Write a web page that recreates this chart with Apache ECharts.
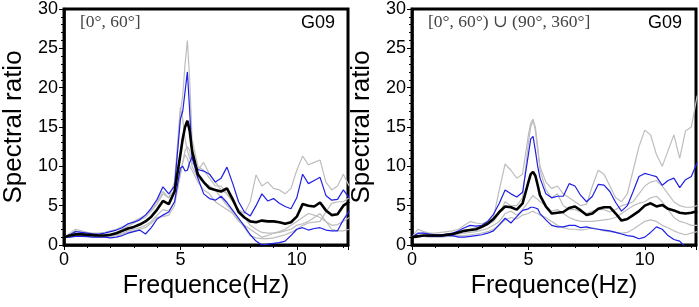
<!DOCTYPE html>
<html>
<head>
<meta charset="utf-8">
<script src="https://cdn.jsdelivr.net/npm/echarts@6/dist/echarts.min.js"></script>
<style>
  html, body { margin: 0; padding: 0; background: #fff; }
  #chart { width: 699px; height: 307px; }
</style>
</head>
<body>
<div id="chart"></div>
<script>
// frequency samples (Hz), shared by all curves
const freqHz = [
  0, 0.25, 0.5, 0.75, 1, 1.25, 1.5, 1.75, 2, 2.25, 2.5, 2.75, 3, 3.25, 3.5, 3.75, 4, 4.25, 4.5, 4.75,
  5, 5.1, 5.2, 5.3, 5.4, 5.5,
  5.75, 6, 6.25, 6.5, 6.75, 7, 7.25, 7.5, 7.75, 8, 8.25, 8.5, 8.75, 9, 9.25, 9.5, 9.75, 10, 10.25, 10.5, 10.75, 11, 11.25, 11.5, 11.75, 12, 12.25
];

// left panel [0°, 60°]
const leftMean = [
  1.0, 1.2, 1.35, 1.35, 1.3, 1.25, 1.2, 1.2, 1.3, 1.5, 1.8, 2.1, 2.3, 2.6, 3.0, 3.6, 4.5, 5.6, 5.2, 6.8,
  11.5, 13.5, 15.0, 15.8, 14.5, 12.0,
  9.0, 8.0, 7.2, 7.0, 6.8, 7.2, 5.8, 4.2, 3.5, 3.0, 2.9, 3.1, 3.0, 3.0, 2.9, 2.7, 2.9, 3.6, 5.2, 5.0, 4.9, 5.4, 4.4, 3.8, 3.9, 5.0, 5.5
];
const leftBlueHi = [
  1.0, 1.3, 1.7, 1.6, 1.5, 1.4, 1.4, 1.5, 1.7, 1.9, 2.2, 2.7, 2.9, 3.2, 3.8, 4.7, 5.8, 7.4, 6.5, 7.5,
  16.0, 17.0, 19.5, 22.0, 17.0, 11.0,
  9.6, 9.4, 9.0, 8.0, 8.5, 9.9, 7.8, 5.5, 4.2, 3.7, 5.0, 6.5, 5.6, 5.9, 5.3, 4.9, 4.6, 6.0, 9.0, 7.8, 8.2, 8.6, 6.3, 5.7, 5.8, 7.0, 6.0
];
const leftBlueLo = [
  1.0, 1.0, 1.1, 1.1, 1.1, 1.0, 1.0, 1.0, 0.9, 1.0, 1.2, 1.5, 1.7, 1.9, 1.4, 2.2, 3.3, 3.8, 4.2, 5.5,
  9.8, 10.0, 9.4, 9.5, 10.5, 11.2,
  8.5, 6.5, 5.9, 5.7, 6.2, 5.4, 4.4, 3.4, 2.4, 1.3, 0.5, 0.0, 0.1, 0.2, 0.3, 0.5, 1.2, 2.0, 2.2, 1.9, 2.1, 2.2, 1.9, 1.8, 1.8, 3.2, 4.3
];
const leftGray1 = [
  1.0, 1.5, 2.0, 1.8, 1.6, 1.5, 1.5, 1.6, 1.8, 2.0, 2.3, 2.6, 3.0, 3.4, 3.8, 4.5, 5.5, 6.8, 6.0, 7.0,
  17.0, 19.0, 23.0, 26.0, 21.0, 13.5,
  10.0, 9.5, 8.5, 7.5, 7.5, 6.5, 5.5, 4.5, 4.0, 5.5, 8.9, 7.5, 8.0, 7.2, 7.0, 6.5, 7.2, 9.5, 11.3, 10.2, 10.5, 10.8, 8.0, 7.0, 7.5, 9.0, 7.5
];
const leftGray2 = [
  1.0, 1.3, 1.8, 1.6, 1.5, 1.4, 1.3, 1.3, 1.4, 1.6, 2.0, 2.4, 2.8, 3.2, 3.5, 4.3, 5.2, 6.5, 6.0, 8.0,
  17.5, 16.0, 13.5, 12.0, 11.0, 10.5,
  9.5, 10.5, 9.0, 8.0, 7.0, 6.5, 5.5, 4.5, 3.5, 2.5, 2.0, 1.6, 1.5, 1.5, 1.7, 2.0, 2.5, 3.0, 3.5, 4.0, 3.8, 3.5, 3.0, 2.5, 2.6, 3.0, 3.5
];
const leftGray3 = [
  1.0, 1.1, 1.3, 1.2, 1.2, 1.1, 1.1, 1.1, 1.2, 1.3, 1.5, 1.8, 2.0, 2.2, 2.5, 3.0, 3.8, 4.5, 4.3, 5.5,
  9.0, 10.5, 12.0, 12.5, 12.0, 10.0,
  8.5, 8.0, 7.5, 7.0, 6.0, 5.0, 4.2, 3.2, 2.2, 1.2, 0.9, 0.8, 0.8, 0.9, 1.1, 1.3, 1.6, 2.0, 2.5, 2.8, 2.9, 3.0, 4.2, 5.3, 5.5, 5.5, 6.0
];
const leftGray4 = [
  1.0, 1.0, 1.2, 1.1, 1.0, 1.0, 1.0, 1.0, 1.1, 1.2, 1.4, 1.6, 1.8, 2.0, 2.2, 2.8, 3.5, 3.6, 3.8, 5.0,
  9.0, 10.5, 11.5, 11.0, 10.0, 9.5,
  8.0, 7.0, 6.5, 5.5, 5.0, 4.5, 4.0, 3.0, 2.5, 2.0, 1.5, 1.0, 1.2, 1.5, 1.6, 1.8, 2.0, 2.5, 2.7, 3.0, 3.5, 4.0, 3.0, 2.0, 1.8, 1.8, 2.0
];

// right panel [0°, 60°) ∪ (90°, 360°]
const rightMean = [
  1.0, 1.1, 1.2, 1.2, 1.2, 1.2, 1.3, 1.4, 1.6, 1.8, 1.9, 2.0, 2.3, 2.7, 3.3, 4.2, 4.9, 4.8, 4.5, 5.3,
  8.0, 9.0, 9.3, 8.8, 7.6, 6.3,
  4.9, 4.0, 4.1, 4.2, 4.7, 4.9, 4.4, 3.8, 4.0, 4.6, 4.8, 4.8, 4.0, 3.1, 3.3, 3.8, 4.3, 5.0, 5.3, 4.9, 5.1, 4.6, 4.4, 4.1, 4.0, 4.1, 4.3
];
const rightBlueHi = [
  1.0, 1.5, 1.5, 1.4, 1.3, 1.3, 1.4, 1.5, 1.8, 2.2, 2.5, 2.4, 2.5, 3.0, 3.9, 5.3, 7.0, 6.5, 6.1, 6.7,
  11.5, 13.5, 13.8, 12.0, 10.0, 8.5,
  6.5, 6.0, 6.2, 6.2, 7.8, 7.5, 6.3, 5.5, 6.2, 7.7, 7.6, 6.8, 5.4, 4.3, 5.0, 6.8, 8.7, 9.1, 8.9, 8.7, 7.6, 8.2, 8.5, 7.3, 8.3, 8.7, 10.5
];
const rightBlueLo = [
  1.0, 1.2, 1.2, 1.1, 1.1, 1.1, 1.2, 1.2, 1.0, 1.0, 1.1, 1.2, 1.3, 1.5, 1.8, 2.6, 3.4, 2.8, 3.6, 4.4,
  4.6, 4.8, 4.8, 4.7, 4.6, 4.0,
  3.2, 2.5, 2.3, 2.3, 2.5, 2.5, 2.2, 2.3, 2.1, 2.0, 1.9, 1.8, 1.6, 1.4, 1.2, 1.1, 0.8, 1.0, 1.6, 2.3, 2.0, 1.2, 0.7, 0.5, -0.3, -1.0, -1.5
];
const rightGray1 = [
  1.0, 2.0, 1.7, 1.5, 1.5, 1.6, 1.7, 1.8, 2.0, 2.5, 3.0, 2.8, 2.7, 3.0, 3.5, 7.0, 10.3, 9.5, 8.5, 9.0,
  14.0, 15.5, 16.0, 14.5, 12.0, 10.0,
  8.0, 7.2, 7.5, 6.5, 6.0, 5.5, 5.0, 5.2, 7.5, 9.5, 9.0, 7.5, 6.0, 5.5, 6.5, 9.5, 12.5, 14.6, 14.0, 11.5, 10.0, 12.0, 14.0, 11.0, 14.5, 15.0, 19.0
];
const rightGray2 = [
  1.0, 1.4, 1.5, 1.3, 1.3, 1.3, 1.4, 1.5, 1.6, 1.8, 2.0, 2.2, 2.4, 2.6, 3.0, 4.0, 5.5, 5.0, 5.0, 6.0,
  13.0, 15.0, 15.8, 15.0, 12.5, 9.5,
  7.0, 6.0, 6.5, 5.0, 4.5, 4.5, 4.2, 4.0, 4.3, 4.5, 4.5, 4.2, 4.5, 5.0, 5.2, 5.5, 6.5, 7.5, 8.0, 8.2, 7.5, 6.5, 5.5, 5.0, 4.8, 4.8, 5.0
];
const rightGray3 = [
  1.0, 1.2, 1.2, 1.2, 1.2, 1.2, 1.2, 1.3, 1.4, 1.5, 1.6, 1.7, 1.9, 2.1, 2.5, 3.0, 4.0, 4.3, 3.8, 4.5,
  5.5, 5.9, 6.3, 6.0, 5.8, 5.5,
  5.0, 4.3, 4.5, 4.0, 3.5, 3.2, 3.0, 3.0, 3.0, 3.1, 3.2, 3.3, 3.5, 4.0, 4.5, 5.0, 5.3, 5.5, 6.0, 6.2, 5.5, 4.5, 3.5, 3.0, 2.8, 2.5, 2.5
];
const rightGray4 = [
  1.0, 1.1, 1.1, 1.0, 1.0, 1.0, 1.1, 1.1, 1.2, 1.2, 1.3, 1.4, 1.5, 1.7, 2.0, 2.5, 3.2, 3.5, 3.3, 3.8,
  4.0, 4.2, 4.3, 4.1, 4.0, 3.8,
  3.5, 3.0, 2.5, 2.2, 2.0, 2.0, 1.9, 2.0, 2.2, 2.0, 1.8, 1.7, 1.6, 1.5, 1.6, 2.0, 2.5, 3.0, 3.2, 3.0, 2.5, 2.2, 1.8, 1.5, 1.3, 1.5, 1.7
];

const yTicks = [0, 5, 10, 15, 20, 25, 30];
const xTicks = [0, 5, 10];

const GRAY = '#bdbdbd';
const BLUE = '#1f1fe6';
const BLACK = '#000000';
const SANS = 'Liberation Sans, Arial, sans-serif';
const SERIF = 'Liberation Serif, DejaVu Serif, serif';

function toPairs(vals) {
  return freqHz.map((f, i) => [f, vals[i]]);
}

function curve(vals, idx, color, width, z) {
  return {
    type: 'line',
    xAxisIndex: idx,
    yAxisIndex: idx,
    data: toPairs(vals),
    showSymbol: false,
    symbol: 'none',
    clip: true,
    z: z,
    lineStyle: { color: color, width: width },
    silent: true
  };
}

function panelSeries(idx, grays, blues, mean) {
  const out = [];
  grays.forEach(g => out.push(curve(g, idx, GRAY, 1.2, 2)));
  blues.forEach(b => out.push(curve(b, idx, BLUE, 1.2, 3)));
  out.push(curve(mean, idx, BLACK, 2.6, 4));
  return out;
}

function xAxisFor(idx) {
  return {
    type: 'value',
    gridIndex: idx,
    min: 0,
    max: 12.2,
    interval: 5,
    name: 'Frequence(Hz)',
    nameLocation: 'middle',
    nameGap: 27,
    nameTextStyle: { fontFamily: SANS, fontSize: 25, color: '#000' },
    axisLine: { show: true, onZero: false, lineStyle: { color: '#000', width: 2.5 } },
    axisTick: { show: true, inside: false, length: 5, lineStyle: { color: '#000', width: 1 } },
    minorTick: { show: true, splitNumber: 5, length: 3, lineStyle: { color: '#000', width: 1 } },
    splitLine: { show: false },
    axisLabel: {
      fontFamily: SANS, fontSize: 18, color: '#000', margin: 6,
      formatter: v => (xTicks.indexOf(v) >= 0 ? String(v) : '')
    }
  };
}

function yAxisFor(idx) {
  return {
    type: 'value',
    gridIndex: idx,
    min: 0,
    max: 30,
    interval: 5,
    name: 'Spectral ratio',
    nameLocation: 'middle',
    nameGap: 37,
    nameTextStyle: { fontFamily: SANS, fontSize: 26, color: '#000' },
    axisLine: { show: true, lineStyle: { color: '#000', width: 2.5 } },
    axisTick: { show: true, inside: false, length: 5, lineStyle: { color: '#000', width: 1 } },
    minorTick: { show: true, splitNumber: 5, length: 3, lineStyle: { color: '#000', width: 1 } },
    splitLine: { show: false },
    axisLabel: {
      fontFamily: SANS, fontSize: 18, color: '#000', margin: 6,
      formatter: v => (yTicks.indexOf(v) >= 0 ? String(v) : '')
    }
  };
}

const chart = echarts.init(document.getElementById('chart'), null, { renderer: 'canvas' });

chart.setOption({
  animation: false,
  backgroundColor: '#fff',
  grid: [
    { left: 63, top: 8, width: 285, height: 237, show: true, borderColor: '#000', borderWidth: 3, backgroundColor: 'transparent' },
    { left: 412, top: 8, width: 285, height: 237, show: true, borderColor: '#000', borderWidth: 3, backgroundColor: 'transparent' }
  ],
  xAxis: [xAxisFor(0), xAxisFor(1)],
  yAxis: [yAxisFor(0), yAxisFor(1)],
  graphic: [
    { type: 'text', left: 80, top: 13, z: 10, style: { text: '[0°, 60°]', font: '17.5px ' + SERIF, fill: '#444' } },
    { type: 'text', left: 301, top: 14, z: 10, style: { text: 'G09', font: '18px ' + SANS, fill: '#000' } },
    { type: 'text', left: 428, top: 13, z: 10, style: { text: '[0°, 60°) ∪ (90°, 360°]', font: '17.5px ' + SERIF, fill: '#444' } },
    { type: 'text', left: 648, top: 14, z: 10, style: { text: 'G09', font: '18px ' + SANS, fill: '#000' } }
  ],
  series: [].concat(
    panelSeries(0, [leftGray1, leftGray2, leftGray3, leftGray4], [leftBlueHi, leftBlueLo], leftMean),
    panelSeries(1, [rightGray1, rightGray2, rightGray3, rightGray4], [rightBlueHi, rightBlueLo], rightMean)
  )
});
</script>
</body>
</html>
